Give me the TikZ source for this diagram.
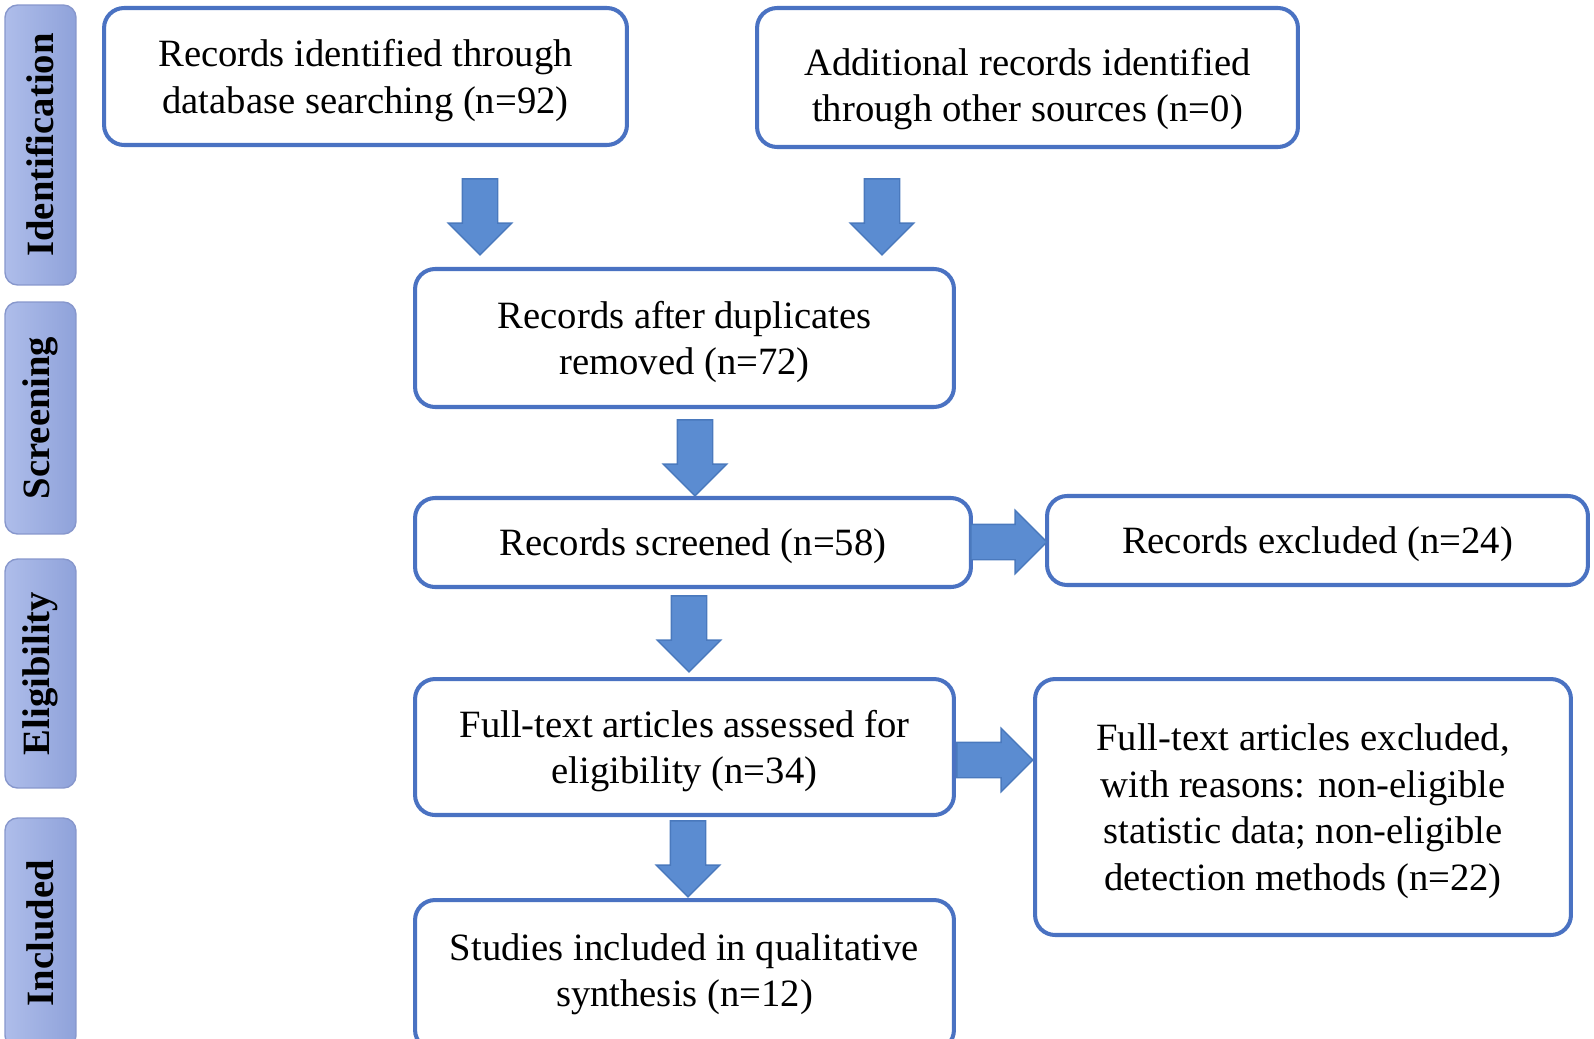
\documentclass[tikz,border=0pt]{standalone}
\usepackage{fontspec}
\setmainfont{Liberation Serif}
\usetikzlibrary{shapes.arrows}

\definecolor{boxblue}{HTML}{4A72C2}
\definecolor{arrowfill}{HTML}{5B8CD1}
\definecolor{arrowline}{HTML}{4A79BD}
\definecolor{sideleft}{HTML}{AEBDEA}
\definecolor{sideright}{HTML}{8FA2DA}
\definecolor{sideline}{HTML}{8797CC}

\tikzset{
    flowbox/.style={draw=boxblue, line width=2.3pt, rounded corners=0.4cm,
        fill=white, align=center, inner sep=0pt, text depth=0pt,
        font=\fontsize{22}{26.6}\selectfont},
    sidebox/.style={draw=sideline, line width=0.8pt, rounded corners=0.25cm,
        left color=sideleft, right color=sideright, minimum width=1.42cm,
        inner sep=0pt},
    sidetext/.style={rotate=90, font=\fontsize{22}{26}\selectfont\bfseries},
    downarrow/.style={single arrow, draw=arrowline, fill=arrowfill, line width=0.8pt,
        rotate=-90, inner sep=0.34cm, minimum height=1.52cm,
        single arrow head extend=0.28cm},
    rightarrow/.style={downarrow, rotate=90}
}

\begin{document}
\begin{tikzpicture}[x=0.02cm, y=-0.02cm]

    \useasboundingbox (0,0) rectangle (1594,1038);
    \clip (0,0) rectangle (1594,1038);

    % phases
    \node[sidebox, minimum height=5.6cm] (ident) at (40.5,145) {};
    \node[sidetext] at (ident.center) {Identification};
    \node[sidebox, minimum height=4.64cm] (screen) at (40.5,418) {};
    \node[sidetext] at (screen.center) {Screening};
    \node[sidebox, minimum height=4.58cm] (elig) at (40.5,673.5) {};
    \node[sidetext] at (elig.center) {Eligibility};
    \node[sidebox, minimum height=4.6cm] (incl) at (40.5,933) {};
    \node[sidetext] at (incl.center) {Included};

    % boxes
    \node[flowbox, minimum width=10.46cm, minimum height=2.74cm] (database) at (365.5,76.5)
        {Records identified through\\ database searching (n=92)};
    \node[flowbox, minimum width=10.82cm, minimum height=2.78cm, text height=1.78cm] (other) at (1027.5,77.5)
        {Additional records identified\\ through other sources (n=0)};
    \node[flowbox, minimum width=10.78cm, minimum height=2.76cm] (dupl) at (684.5,338)
        {Records after duplicates\\ removed (n=72)};
    \node[flowbox, minimum width=11.12cm, minimum height=1.78cm] (screened) at (693,542.5)
        {Records screened (n=58)};
    \node[flowbox, minimum width=10.82cm, minimum height=1.78cm] (excluded) at (1317.5,540.5)
        {Records excluded (n=24)};
    \node[flowbox, minimum width=10.78cm, minimum height=2.72cm] (fulltext) at (684.5,747)
        {Full-text articles assessed for\\ eligibility (n=34)};
    \node[flowbox, minimum width=10.72cm, minimum height=5.12cm] (reasons) at (1303,807)
        {Full-text articles excluded,\\ with reasons: non-eligible\\ statistic data; non-eligible\\ detection methods (n=22)};
    \node[flowbox, minimum width=10.78cm, minimum height=3cm, text depth=0.2cm] (studies) at (684.5,975)
        {Studies included in qualitative\\ synthesis (n=12)};

    % block arrows
    \node[downarrow] (a1) at (480,208) {};
    \node[downarrow] (a2) at (882,208) {};
    \node[downarrow] (a3) at (695,449) {};
    \node[downarrow] (a4) at (689,625) {};
    \node[downarrow] (a5) at (688,850) {};
    \node[rightarrow] (a6) at (1000,542) {};
    \node[rightarrow] (a7) at (986,760) {};

\end{tikzpicture}
\end{document}
